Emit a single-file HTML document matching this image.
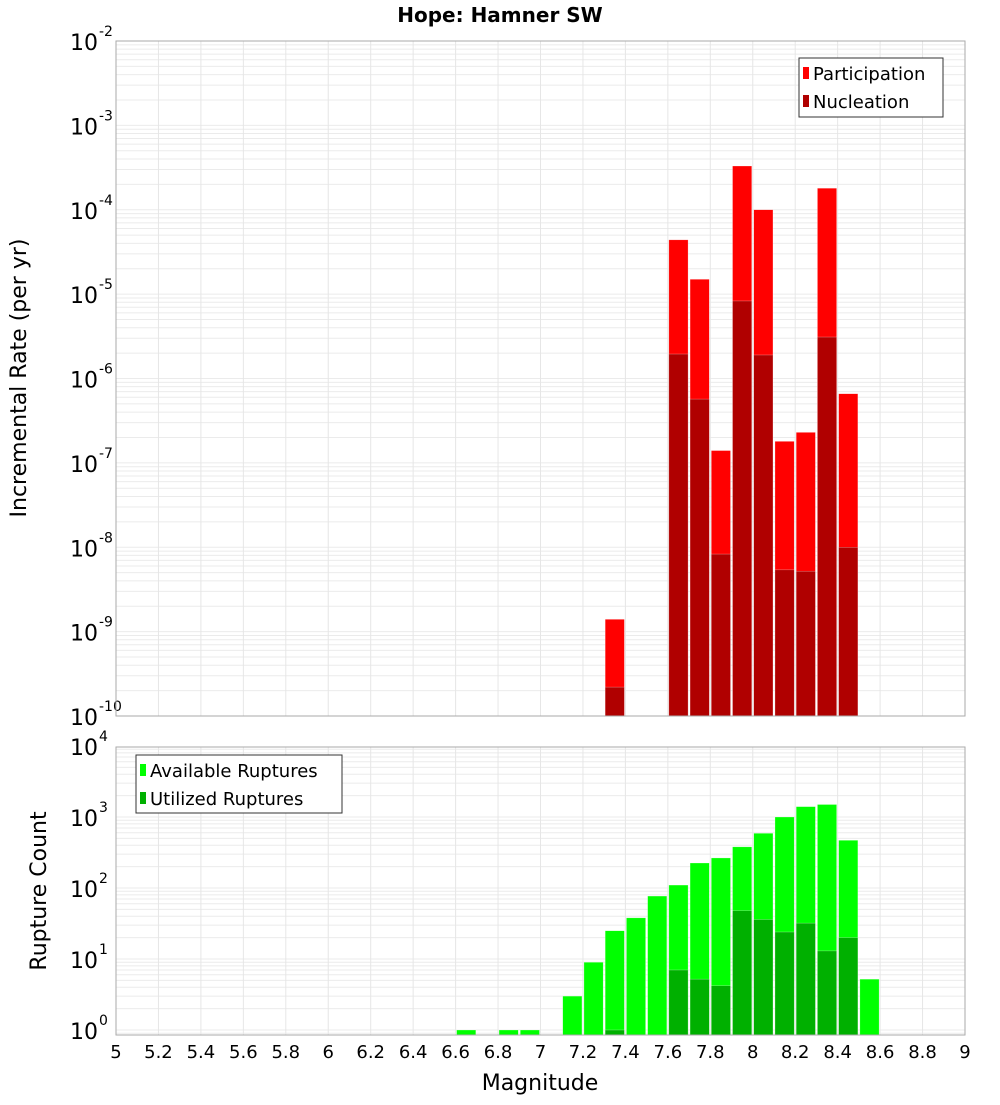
<!DOCTYPE html>
<html><head><meta charset="utf-8"><style>
body{margin:0;background:#fff;font-family:"Liberation Sans","DejaVu Sans",sans-serif}
svg text{font-family:"DejaVu Sans","Liberation Sans",sans-serif}
</style></head><body>
<svg id="chart" width="1000" height="1100" xmlns="http://www.w3.org/2000/svg">
<rect width="1000" height="1100" fill="#fff"/>
<text x="500" y="22" text-anchor="middle" font-size="20" font-weight="bold">Hope: Hamner SW</text>
<g id="top"></g><g id="bot"></g>
<text transform="translate(26,378) rotate(-90)" text-anchor="middle" font-size="22">Incremental Rate (per yr)</text>
<text transform="translate(46,891) rotate(-90)" text-anchor="middle" font-size="22">Rupture Count</text>
<text x="540" y="1090" text-anchor="middle" font-size="22">Magnitude</text>
</svg>
<script>
const NS="http://www.w3.org/2000/svg";
const rateMags=[7.3,7.6,7.7,7.8,7.9,8.0,8.1,8.2,8.3,8.4];
const participation=[1.4e-9,4.4e-5,1.5e-5,1.4e-7,3.3e-4,1.0e-4,1.8e-7,2.3e-7,1.8e-4,6.6e-7];
const nucleation=[2.2e-10,1.95e-6,5.7e-7,8.3e-9,8.3e-6,1.9e-6,5.4e-9,5.2e-9,3.1e-6,1.0e-8];
const countMags=[6.6,6.8,6.9,7.1,7.2,7.3,7.4,7.5,7.6,7.7,7.8,7.9,8.0,8.1,8.2,8.3,8.4,8.5];
const available=[1,1,1,3,9,25,38,77,110,225,265,380,590,1000,1400,1500,470,5.2];
const utilized=[0,0,0,0,0,1,0,0,7,5.2,4.2,48,36,24,32,13,20,0];
const xTicks=[5,5.2,5.4,5.6,5.8,6,6.2,6.4,6.6,6.8,7,7.2,7.4,7.6,7.8,8,8.2,8.4,8.6,8.8,9];
const topExps=[-10,-9,-8,-7,-6,-5,-4,-3,-2];
const botExps=[0,1,2,3,4];

const X0=116,X1=965;
const x=m=>X0+(m-5)/4*(X1-X0);
const yTop=v=>41+(-2-Math.log10(v))*84.375;
const yBot=v=>1030-71*Math.log10(v);

function el(p,tag,a){const e=document.createElementNS(NS,tag);for(const k in a)e.setAttribute(k,a[k]);p.appendChild(e);return e;}

function panel(g,top,bottom,yf,exps,lo,hi,name){
  el(g,'rect',{x:X0,y:top,width:X1-X0,height:bottom-top,fill:'#fff'});
  for(let e=lo;e<hi;e++)for(let k=1;k<10;k++){const yy=yf(k*Math.pow(10,e));if(yy<top||yy>bottom)continue;
    const l=el(g,'line',{x1:X0,x2:X1,y1:yy,y2:yy,stroke:'#ebebeb','stroke-width':1});
    
    }
  xTicks.forEach(t=>{const l=el(g,'line',{x1:x(t),x2:x(t),y1:top,y2:bottom,stroke:'#e6e6e6','stroke-width':1});
    
    });
  exps.forEach(e=>{const yy=yf(Math.pow(10,e));
    const t=el(g,'text',{x:98,y:yy+9,'text-anchor':'end','font-size':22});t.textContent='10';
    
    
    const s=el(g,'text',{x:99,y:yy-5,'font-size':14});s.textContent=String(e).replace('-','-');
    
    });
}
function bar(g,m,v,yf,bottom,fill,name){if(!v)return;const y=yf(v);
  const r=el(g,'rect',{x:x(m)+1,y:y,width:x(m+0.1)-x(m)-2,height:bottom-y,fill:fill,stroke:'#fff','stroke-opacity':0.5,'stroke-width':0.5});
  
  }

const gt=document.getElementById('top'),gb=document.getElementById('bot');
panel(gt,41,716,yTop,topExps,-10,-2,'top');
rateMags.forEach((m,i)=>{bar(gt,m,participation[i],yTop,716,'#ff0000','participation-bar');bar(gt,m,nucleation[i],yTop,716,'#b00000','nucleation-bar');});
el(gt,'rect',{x:X0,y:41,width:X1-X0,height:675,fill:'none',stroke:'#aaa'});
panel(gb,747,1035,yBot,botExps,-1,4,'bottom');
countMags.forEach((m,i)=>{bar(gb,m,available[i],yBot,1035,'#00ff00','available-bar');bar(gb,m,utilized[i],yBot,1035,'#00b000','utilized-bar');});
el(gb,'rect',{x:X0,y:747,width:X1-X0,height:288,fill:'none',stroke:'#aaa'});
xTicks.forEach(t=>{const tx=el(gb,'text',{x:x(t),y:1058,'text-anchor':'middle','font-size':18});tx.textContent=String(t);
  
  });

function legend(g,bx,by,w,h,items,name){
  const b=el(g,'rect',{x:bx,y:by,width:w,height:h,fill:'#fff',stroke:'#333'});
  
  
  items.forEach((it,i)=>{const cy=by+15+i*28;
    el(g,'rect',{x:bx+4,y:cy-6,width:6,height:12,fill:it[1]});
    const t=el(g,'text',{x:bx+14,y:cy+7,'font-size':18});t.textContent=it[0];
    
    });
}
legend(gt,799,58,144,59,[['Participation','#ff0000'],['Nucleation','#b00000']],'top-legend');
legend(gb,136,755,206,58,[['Available Ruptures','#00ff00'],['Utilized Ruptures','#00b000']],'bottom-legend');
</script>
</body></html>
